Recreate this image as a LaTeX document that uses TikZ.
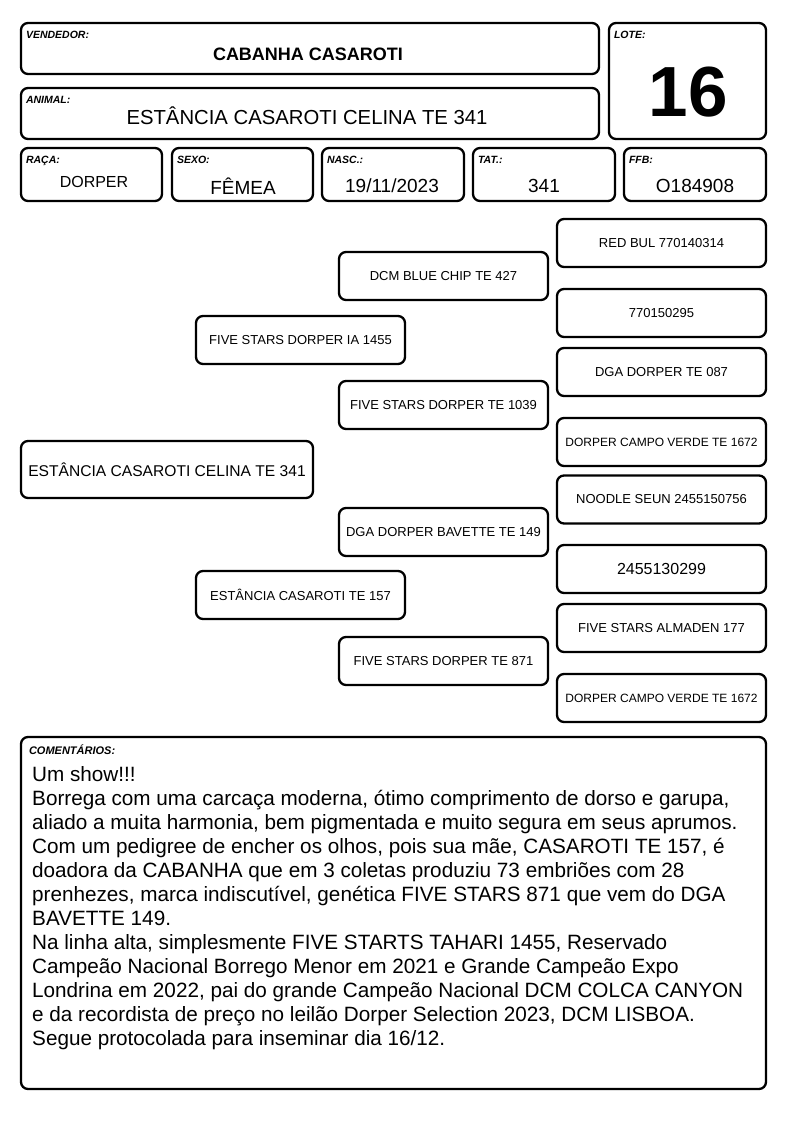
\documentclass[tikz,border=0pt]{standalone}
\usepackage{fontspec}
\setmainfont{Liberation Sans}
\begin{document}
\begin{tikzpicture}[x=1pt, y=-1pt, line join=round,
	box/.style={draw, line width=2.3pt, rounded corners=7pt, inner sep=0pt},
	tag/.style={anchor=north west, inner sep=0pt, font=\fontsize{10.5}{12}\selectfont\bfseries\itshape},
	val/.style={inner sep=0pt, font=\fontsize{19}{22}\selectfont},
	ped/.style={box, minimum width=209pt, minimum height=48pt}]
	\useasboundingbox (0,0) rectangle (794,1123);
	% cabecalho
	\foreach \nm/\cx/\cy/\w/\h/\lbl in {
		vend/310/48.5/578/51/{VENDEDOR:},
		anim/310/113.5/578/51/{ANIMAL:},
		lote/687.5/81/157/116/{LOTE:},
		raca/91.5/174.5/141/53/{RAÇA:},
		sexo/242.5/174.5/141/53/{SEXO:},
		nasc/393/174.5/142/53/{NASC.:},
		tat/544/174.5/142/53/{TAT.:},
		ffb/695/174.5/142/53/{FFB:}
	} {
		\node[box, minimum width=\w pt, minimum height=\h pt] (\nm) at (\cx,\cy) {};
		\node[tag] (\nm-tag) at ([xshift=6pt, yshift=-9pt]\nm.north west) {\lbl};
	}
	\node[val, font=\fontsize{18}{20}\selectfont\bfseries] (vend-val) at (308,54) {CABANHA CASAROTI};
	\node[val, font=\fontsize{20.3}{22}\selectfont] (anim-val) at (307,116) {ESTÂNCIA CASAROTI CELINA TE 341};
	\node[val, font=\fontsize{71}{80}\selectfont\bfseries] (lote-val) at (688,92) {16};
	\node[val, font=\fontsize{16}{19}\selectfont] (raca-val) at (94,182) {DORPER};
	\node[val] (sexo-val) at (243,186) {FÊMEA};
	\node[val] (nasc-val) at (392,186) {19/11/2023};
	\node[val] (tat-val) at (544,186) {341};
	\node[val] (ffb-val) at (695,186) {O184908};
	% pedigree
	\foreach \nm/\cx/\cy/\fs/\txt in {
		sire/300.5/340/13/{FIVE STARS DORPER IA 1455},
		dam/300.5/595/13/{ESTÂNCIA CASAROTI TE 157},
		ss/443.5/276/13/{DCM BLUE CHIP TE 427},
		sd/443.5/405/13/{FIVE STARS DORPER TE 1039},
		ds/443.5/532/13/{DGA DORPER BAVETTE TE 149},
		dd/443.5/661/13/{FIVE STARS DORPER TE 871},
		sss/661.5/243/13/{RED BUL 770140314},
		ssd/661.5/313/13/{770150295},
		sds/661.5/372/13/{DGA DORPER TE 087},
		sdd/661.5/442/12/{DORPER CAMPO VERDE TE 1672},
		dss/661.5/499.5/13/{NOODLE SEUN 2455150756},
		dsd/661.5/569/16/{2455130299},
		dds/661.5/628/13/{FIVE STARS ALMADEN 177},
		ddd/661.5/698/12/{DORPER CAMPO VERDE TE 1672}
	} {
		\node[ped, font=\fontsize{\fs}{\fs}\selectfont] (\nm) at (\cx,\cy) {\txt};
	}
	\node[box, minimum width=292pt, minimum height=57pt, font=\fontsize{15.6}{17}\selectfont] (self) at (167,469.5) {ESTÂNCIA CASAROTI CELINA TE 341};
	% comentarios
	\node[box, minimum width=745pt, minimum height=352pt] (coment) at (393.5,913) {};
	\node[tag, font=\fontsize{11}{12}\selectfont\bfseries\itshape] (coment-tag) at ([xshift=9pt, yshift=-9pt]coment.north west) {COMENTÁRIOS:};
	\node[anchor=north west, inner sep=0pt, align=left, font=\fontsize{20.7}{24}\selectfont] (coment-txt) at (32,766) {Um show!!!\\
		Borrega com uma carcaça moderna, ótimo comprimento de dorso e garupa,\\
		aliado a muita harmonia, bem pigmentada e muito segura em seus aprumos.\\
		Com um pedigree de encher os olhos, pois sua mãe, CASAROTI TE 157, é\\
		doadora da CABANHA que em 3 coletas produziu 73 embriões com 28\\
		prenhezes, marca indiscutível, genética FIVE STARS 871 que vem do DGA\\
		BAVETTE 149.\\
		Na linha alta, simplesmente FIVE STARTS TAHARI 1455, Reservado\\
		Campeão Nacional Borrego Menor em 2021 e Grande Campeão Expo\\
		Londrina em 2022, pai do grande Campeão Nacional DCM COLCA CANYON\\
		e da recordista de preço no leilão Dorper Selection 2023, DCM LISBOA.\\
		Segue protocolada para inseminar dia 16/12.};
\end{tikzpicture}
\end{document}
